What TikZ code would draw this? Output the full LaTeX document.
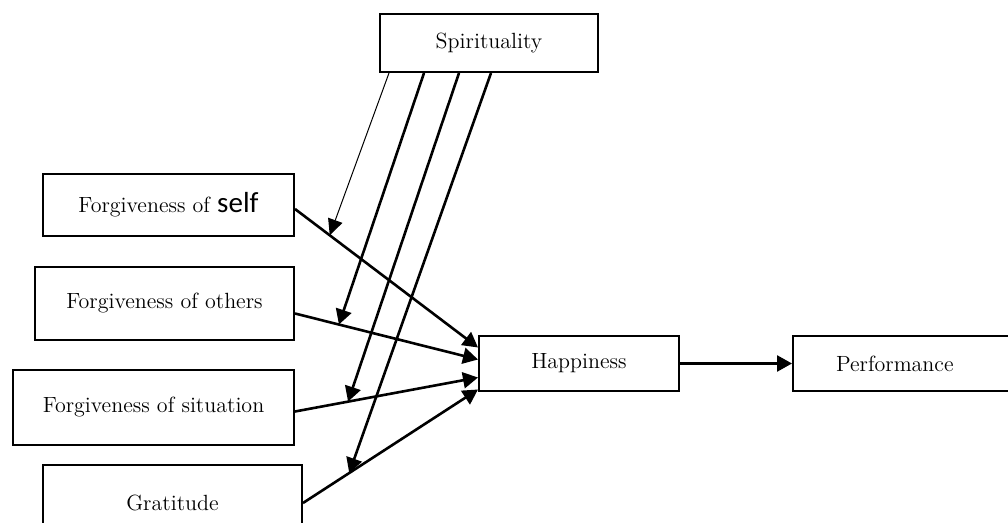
\documentclass[tikz,border=0pt]{standalone}
\usepackage{fontspec}
\newfontfamily\selffont{Carlito}
\usetikzlibrary{arrows.meta}
\tikzset{
  box/.style={draw,line width=1pt,rectangle,inner sep=2pt,font=\fontsize{11}{13}\selectfont},
  arr/.style={line width=1.3pt,-{Triangle[length=7.5pt,width=8pt]}},
  thinarr/.style={line width=0.5pt,-{Triangle[length=8pt,width=7.5pt]}}
}
\begin{document}
\begin{tikzpicture}[x=0.5pt,y=-0.5pt]
\useasboundingbox (0,0) rectangle (1008,523);
% boxes (pixel coordinates of the reference)
\node[box,minimum width=109pt,minimum height=29pt] (spir) at (489,43) {Spirituality};
\node[box,minimum width=125.5pt,minimum height=31pt] (self) at (168.5,205) {Forgiveness of {\selffont\fontsize{14.5}{14}\selectfont self}};
\node[box,minimum width=129.5pt,minimum height=36.5pt] (others) at (164.5,303.5) {Forgiveness of others};
\node[box,minimum width=140.5pt,minimum height=37.5pt] (sit) at (153.5,407.5) {Forgiveness of situation};
\node[box,minimum width=129.5pt,minimum height=38pt] (grat) at (172.5,503) {Gratitude};
\node[box,minimum width=100pt,minimum height=27.5pt] (hap) at (579,363.5) {Happiness};
\node[box,minimum width=115pt,minimum height=27.5pt,text width=100pt,align=left] (perf) at (908,363.5) {\hspace{14pt}Performance};
% predictors -> happiness, with points for the moderating arrows
\draw[arr] ([yshift=-2pt]self.east) -- coordinate[pos=0.19] (mself) ([yshift=8pt]hap.west);
\draw[arr] ([yshift=-5pt]others.east) -- coordinate[pos=0.24] (mothers) ([yshift=2pt]hap.west);
\draw[arr] ([yshift=-2pt]sit.east) -- coordinate[pos=0.29] (msit) ([yshift=-7pt]hap.west);
\draw[arr] (grat.east) -- coordinate[pos=0.264] (mgrat) ([yshift=-13pt]hap.west);
\draw[arr] (hap.east) -- (perf.west);
% spirituality as moderator
\draw[thinarr] ([xshift=-50pt]spir.south) -- (mself);
\draw[arr] ([xshift=-32.5pt]spir.south) -- (mothers);
\draw[arr] ([xshift=-15pt]spir.south) -- (msit);
\draw[arr] ([xshift=1pt]spir.south) -- (mgrat);
\end{tikzpicture}
\end{document}
